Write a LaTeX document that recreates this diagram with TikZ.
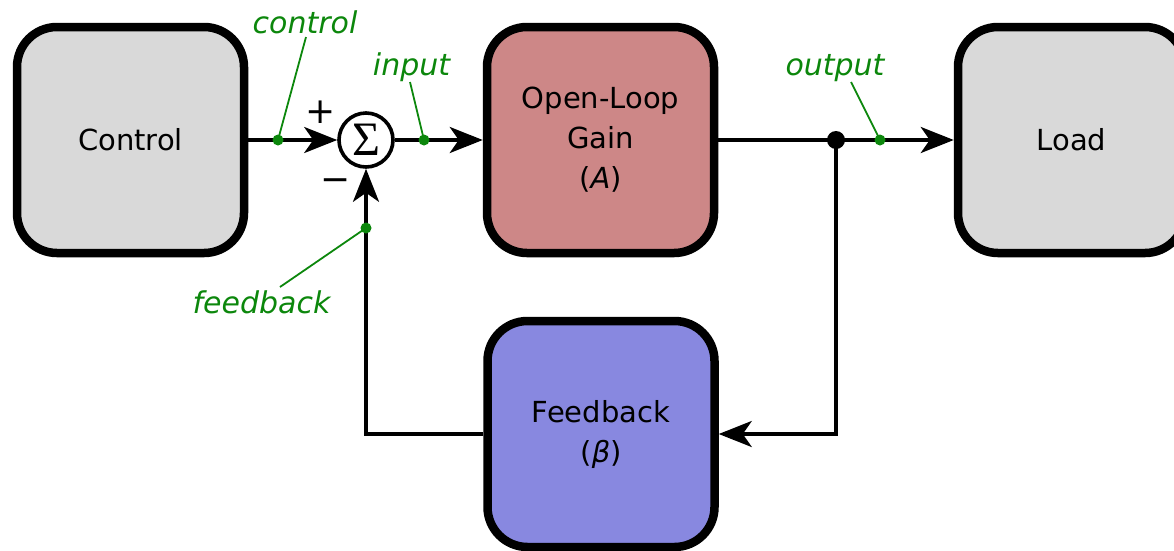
\documentclass[tikz,border=0pt]{standalone}
\usepackage{fontspec}
\setmainfont{DejaVu Sans}
\newfontfamily\sigmafont{Liberation Serif}
\usetikzlibrary{arrows.meta}
\definecolor{boxgray}{RGB}{217,217,217}
\definecolor{gainred}{RGB}{205,135,135}
\definecolor{fbblue}{RGB}{136,136,224}
\definecolor{tagreen}{RGB}{12,135,12}
\begin{document}
\begin{tikzpicture}[x=1pt,y=-1pt,
  block/.style={draw=black, line width=8.5pt, rounded corners=40pt,
    minimum width=227pt, minimum height=226pt, align=center,
    font=\fontsize{29}{40}\selectfont, inner sep=0pt},
  sig/.style={line width=3.6pt, -{Stealth[length=33pt,width=26pt,inset=9pt]}},
  tag/.style={text=tagreen, font=\fontsize{30}{36}\selectfont\itshape,
    inner sep=0pt, anchor=base},
  leader/.style={draw=tagreen, line width=1.8pt},
  probe/.style={circle, fill=tagreen, inner sep=0pt, minimum size=11pt},
  sumnode/.style={circle, draw=black, fill=white, line width=3.6pt,
    minimum size=54pt, inner sep=0pt},
  junction/.style={circle, fill=black, inner sep=0pt, minimum size=18pt},
  sign/.style={font=\fontsize{36}{36}\selectfont, inner sep=0pt}
]
\useasboundingbox (0,0) rectangle (1174,550);

% blocks
\node[block, fill=boxgray] (ctrl) at (130.5,140) {Control};
\node[block, fill=gainred] (gain) at (600.5,140) {Open-Loop\\Gain\\(\textit{A})};
\node[block, fill=boxgray] (load) at (1071.5,140) {Load};
\node[block, fill=fbblue] (fb) at (601,434) {Feedback\\(\textit{β})};

% summing junction
\node[sumnode] (sum) at (366,140) {\sigmafont\fontsize{48}{48}\selectfont Σ};
\node[sign] (plus) at (321,112) {+};
\node[sign] (minus) at (336,185) {−};

% signal path
\coordinate (split) at (836,140);
\draw[sig] (ctrl.east) -- (sum.west);
\draw[sig] (sum.east) -- (gain.west);
\draw[sig] (gain.east) -- (load.west);
\draw[sig] (split) |- (fb.east);
\draw[sig] (fb.west) -| (sum.south);
\node[junction] (dot) at (split) {};

% signal name tags
\node[tag] (tcontrol) at (305,33) {control};
\node[tag] (tinput) at (411.5,75) {input};
\node[tag] (toutput) at (835,75) {output};
\node[tag] (tfeedback) at (261.5,313) {feedback};

\node[probe] (pcontrol) at (278,140) {};
\node[probe] (pinput) at (424,140) {};
\node[probe] (poutput) at (880,140) {};
\node[probe] (pfeedback) at (366,228) {};

\coordinate (lcontrol) at (306,37);
\coordinate (linput) at (410,82);
\coordinate (loutput) at (851,82);
\coordinate (lfeedback) at (280,287);
\draw[leader] (lcontrol) -- (pcontrol.center);
\draw[leader] (linput) -- (pinput.center);
\draw[leader] (loutput) -- (poutput.center);
\draw[leader] (lfeedback) -- (pfeedback.center);
\end{tikzpicture}
\end{document}
